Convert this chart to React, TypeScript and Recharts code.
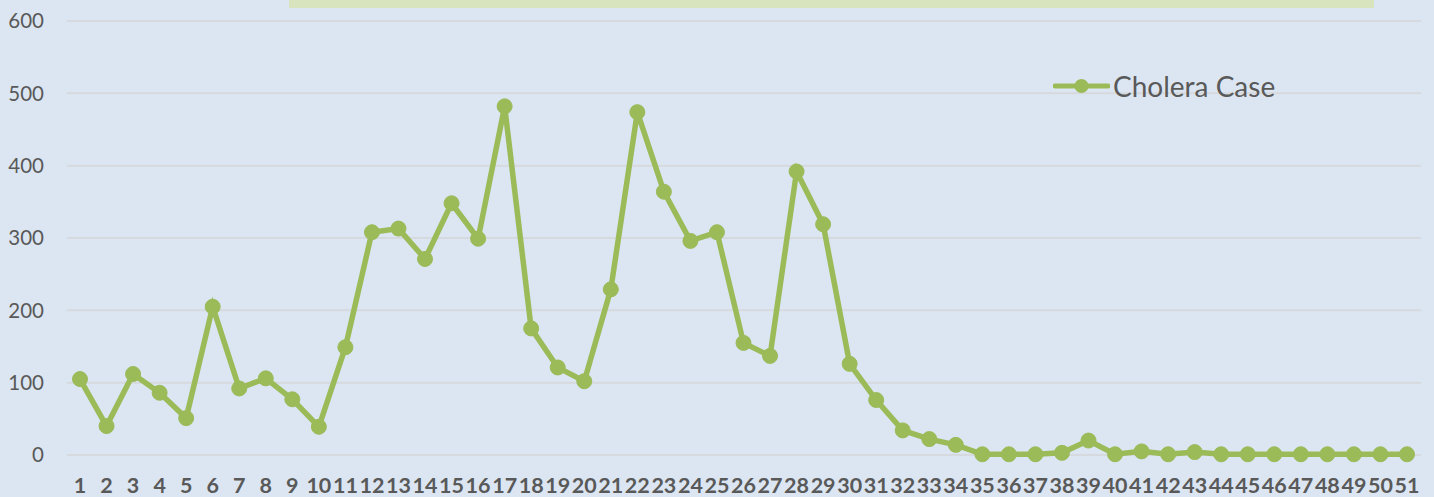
import { LineChart, Line, XAxis, YAxis, CartesianGrid } from 'recharts'

const WEEKS = Array.from({ length: 51 }, (_, i) => String(i + 1))

const CASES = [
  105, 40, 112, 86, 51, 205, 92, 106, 77, 39,
  149, 308, 313, 271, 348, 299, 482, 175, 121, 102,
  229, 474, 364, 296, 308, 155, 137, 392, 319, 126,
  76, 34, 22, 14, 1, 1, 1, 3, 20, 1,
  5, 1, 4, 1, 1, 1, 1, 1, 1, 1, 1,
]

const Y_TICKS = [0, 100, 200, 300, 400, 500, 600]

const LINE_COLOR = '#9bbb59'
const TEXT_COLOR = '#595959'
const FONT = 'Lato, "Open Sans", sans-serif'

const data = WEEKS.map((week, i) => ({ week, cases: CASES[i] }))

export default function App() {
  return (
    <div
      style={{
        position: 'absolute',
        left: 0,
        top: 0,
        width: 1434,
        height: 497,
        background: '#dce6f2',
        fontFamily: FONT,
        overflow: 'hidden',
      }}
    >
      <div
        style={{
          position: 'absolute',
          left: 289,
          top: 0,
          width: 1085,
          height: 8,
          background: '#d7e4bd',
        }}
      />
      <LineChart
        width={1434}
        height={497}
        data={data}
        margin={{ top: 21, right: 13, left: 0, bottom: 0 }}
      >
        <CartesianGrid vertical={false} stroke="#d6d9de" strokeWidth={2} />
        <XAxis
          dataKey="week"
          interval={0}
          height={42}
          padding={{ left: 13, right: 14 }}
          axisLine={false}
          tickLine={false}
          tickSize={0}
          tickMargin={23}
          tick={{ fill: TEXT_COLOR, fontSize: 21.5, fontWeight: 700, fontFamily: FONT }}
        />
        <YAxis
          width={67}
          domain={[0, 600]}
          ticks={Y_TICKS}
          axisLine={false}
          tickLine={false}
          tickSize={0}
          tickMargin={23}
          tick={{ fill: TEXT_COLOR, fontSize: 20.5, fontFamily: FONT }}
        />
        <Line
          type="linear"
          dataKey="cases"
          stroke={LINE_COLOR}
          strokeWidth={5.5}
          dot={{ r: 7.5, fill: LINE_COLOR, stroke: LINE_COLOR, strokeWidth: 1 }}
          isAnimationActive={false}
        />
      </LineChart>
      <div
        style={{
          position: 'absolute',
          left: 1053,
          top: 70,
          display: 'flex',
          alignItems: 'center',
          color: TEXT_COLOR,
          fontSize: 28,
        }}
      >
        <svg width={57} height={20}>
          <line x1={2} y1={10} x2={55} y2={10} stroke={LINE_COLOR} strokeWidth={5} strokeLinecap="round" />
          <circle cx={28.5} cy={10} r={7} fill={LINE_COLOR} />
        </svg>
        <span style={{ marginLeft: 3, lineHeight: '32px' }}>Cholera Case</span>
      </div>
    </div>
  )
}
